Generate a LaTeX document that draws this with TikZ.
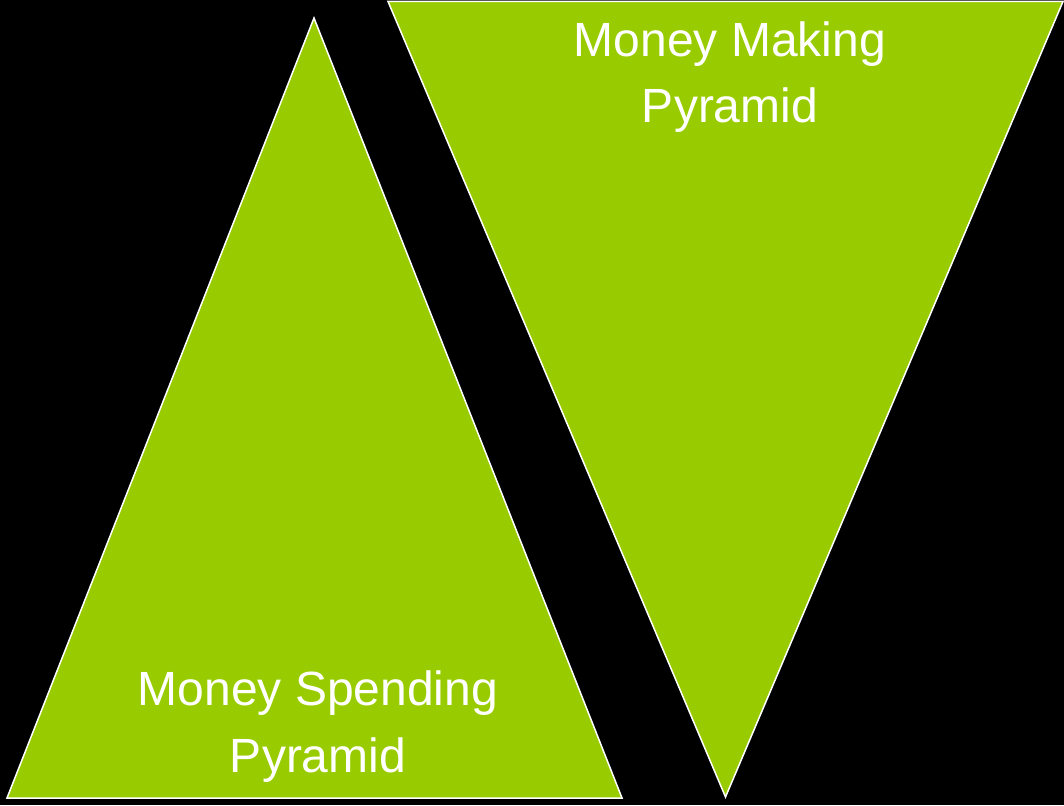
\documentclass[tikz,border=0pt]{standalone}
\usepackage{fontspec}
\setmainfont{Liberation Sans}
\definecolor{pyrgreen}{RGB}{153,204,0}
\begin{document}
\begin{tikzpicture}[x=1pt,y=-1pt,
  pyr/.style={fill=pyrgreen,draw=white,line width=1.5pt,line join=miter},
  lbl/.style={text=white,font=\fontsize{48}{56}\selectfont,anchor=base,inner sep=0pt}]
\useasboundingbox (0,0) rectangle (1064,805);
\fill[black] (0,0) rectangle (1064,805);
\begin{scope}
\clip (0,0) rectangle (1064,805);
\coordinate (la) at (314,18);
\coordinate (lb) at (7,798);
\coordinate (lc) at (622,798);
\coordinate (ra) at (388,1.5);
\coordinate (rb) at (1063,1.5);
\coordinate (rc) at (725.5,797);
\draw[pyr] (la) -- (lc) -- (lb) -- cycle;
\draw[pyr] (ra) -- (rb) -- (rc) -- cycle;
\end{scope}
\node[lbl] (mm1) at (730,57) {Money Making};
\node[lbl] (mm2) at (730,123) {Pyramid};
\node[lbl] (ms1) at (318,705) {Money Spending};
\node[lbl] (ms2) at (318,772) {Pyramid};
\end{tikzpicture}
\end{document}
